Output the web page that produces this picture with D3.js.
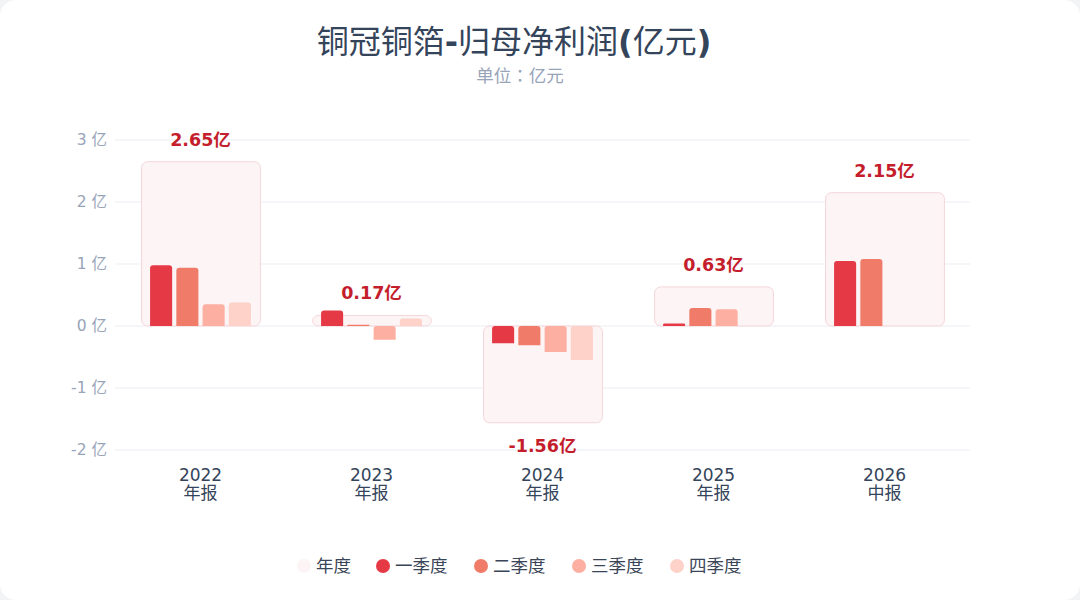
<!DOCTYPE html>
<html><head><meta charset="utf-8">
<script src="https://cdn.jsdelivr.net/npm/d3@7"></script>
<style>
html,body{margin:0;padding:0;background:#f3f4f6;}
svg{display:block;}
</style></head>
<body>
<svg id="c" width="1080" height="600"></svg>
<script>
const categories = ["2022","2023","2024","2025","2026"];
const periodLabels = ["年报","年报","年报","年报","中报"];
const annual = [2.65, 0.17, -1.56, 0.63, 2.15];
const quarters = ["一季度","二季度","三季度","四季度"];
const q1 = [0.98, 0.25, -0.28, 0.04, 1.05];
const q2 = [0.94, 0.02, -0.31, 0.29, 1.08];
const q3 = [0.35, -0.22, -0.42, 0.27, null];
const q4 = [0.38, 0.12, -0.55, null, null];
const yTicks = [-2, -1, 0, 1, 2, 3];
const colors = ["#e63946", "#f07b69", "#fdafa2", "#fed1c9"];
const annualFill = "#fcf4f5";
const annualStroke = "#f5d6db";

const svg = d3.select("#c");
const W = 1080, H = 600;
const font = "'DejaVu Sans','Noto Sans CJK SC',sans-serif";

svg.append("rect").attr("x",0).attr("y",0).attr("width",W).attr("height",H)
  .attr("rx",16).attr("fill","#ffffff");

// title: CJK regular, latin punctuation bold
const titleParts = [["铜冠铜箔",false],["-",true],["归母净利润",false],["(",true],["亿元",false],[")",true]];
const title = svg.append("text").attr("x",514).attr("y",53).attr("text-anchor","middle")
  .attr("font-family",font).attr("font-size",32).attr("fill","#34445a");
titleParts.forEach(p=>{
  title.append("tspan").attr("font-weight", p[1] ? "bold" : "normal").text(p[0]);
});
const subParts = [["单位","'Noto Sans CJK SC',sans-serif"],["：","'Noto Sans CJK TC',sans-serif"],["亿元","'Noto Sans CJK SC',sans-serif"]];
const subtitle = svg.append("text").attr("x",520).attr("y",82).attr("text-anchor","middle")
  .attr("font-size",17.5).attr("fill","#98a4b8");
subParts.forEach(p=>{
  subtitle.append("tspan").attr("font-family",p[1]).text(p[0]);
});

const x = d3.scaleBand().domain(categories).range([115, 970]).paddingInner(0).paddingOuter(0);
const y = d3.scaleLinear().domain([-2, 3]).range([450, 140]);

// grid
const grid = svg.append("g");
grid.selectAll("line").data(yTicks).join("line")
  .attr("x1",115).attr("x2",970)
  .attr("y1",d=>y(d)).attr("y2",d=>y(d))
  .attr("stroke","#ebedf2").attr("stroke-width",1);

// y axis
const yAxis = d3.axisLeft(y).tickValues(yTicks).tickSize(0).tickPadding(8)
  .tickFormat(d=>d + " 亿");
const ya = svg.append("g").attr("transform","translate(115,0)").call(yAxis);
ya.select(".domain").remove();
ya.selectAll("text").attr("font-family",font).attr("font-size",15.5).attr("fill","#98a4b8");

// x axis labels
const xAxis = d3.axisBottom(x).tickSize(0).tickPadding(0).tickFormat(()=> "");
const xa = svg.append("g").attr("transform","translate(0,"+y(-2)+")").call(xAxis);
xa.select(".domain").remove();
xa.selectAll(".tick").each(function(d,i){
  const t = d3.select(this);
  t.append("text").attr("y",31).attr("text-anchor","middle")
    .attr("font-family",font).attr("font-size",17).attr("fill","#34445a").text(d);
  t.append("text").attr("y",49).attr("text-anchor","middle")
    .attr("font-family",font).attr("font-size",17).attr("fill","#34445a").text(periodLabels[i]);
});

const boxW = x.bandwidth()*0.695;
const boxX = d => x(d) + (x.bandwidth()-boxW)/2;
const sub = d3.scaleBand().domain(quarters).range([9, boxW-9]).paddingInner(0.16).paddingOuter(0);

// annual boxes
const g = svg.append("g");
g.selectAll("rect.annual").data(categories).join("rect")
  .attr("class","annual")
  .attr("x", d=>boxX(d)+0.5)
  .attr("y", (d,i)=> Math.min(y(annual[i]), y(0)))
  .attr("width", boxW)
  .attr("height", (d,i)=> Math.abs(y(annual[i]) - y(0)))
  .attr("rx",6)
  .attr("fill",annualFill).attr("stroke",annualStroke).attr("stroke-width",1);

function barPath(x0, w, v){
  const y0 = y(0), y1 = y(v);
  const top = Math.min(y0,y1), bot = Math.max(y0,y1);
  const h = bot-top;
  const r = Math.min(3, h/2, w/2);
  return `M${x0},${bot}V${top+r}Q${x0},${top} ${x0+r},${top}H${x0+w-r}Q${x0+w},${top} ${x0+w},${top+r}V${bot}Z`;
}

const qSeries = [q1,q2,q3,q4];
qSeries.forEach((arr, qi)=>{
  g.selectAll("path.q"+qi).data(categories.map((c,i)=>({c, v:arr[i]})).filter(d=>d.v!==null))
    .join("path").attr("class","q"+qi)
    .attr("d", d=> barPath(boxX(d.c)+sub(quarters[qi]), sub.bandwidth(), d.v))
    .attr("fill", colors[qi]);
});

// annual labels
g.selectAll("text.val").data(categories).join("text")
  .attr("class","val")
  .attr("x", d=> x(d)+x.bandwidth()/2)
  .attr("y", (d,i)=> annual[i]>=0 ? y(annual[i]) - 16 : y(annual[i]) + 29)
  .attr("text-anchor","middle")
  .attr("font-family",font).attr("font-size",17.5).attr("font-weight","bold")
  .attr("fill","#c41d2c")
  .text((d,i)=> annual[i].toFixed(2) + "亿");

// legend
const legendItems = ["年度"].concat(quarters);
const legendColors = [annualFill].concat(colors);
const legendX = [304, 383, 481, 579, 677];
const lg = svg.append("g");
legendItems.forEach((t,i)=>{
  lg.append("circle").attr("cx",legendX[i]).attr("cy",566).attr("r",7).attr("fill",legendColors[i]);
  lg.append("text").attr("x",legendX[i]+12).attr("y",572)
    .attr("font-family",font).attr("font-size",17.5).attr("fill","#3a4658").text(t);
});
</script>
</body></html>
